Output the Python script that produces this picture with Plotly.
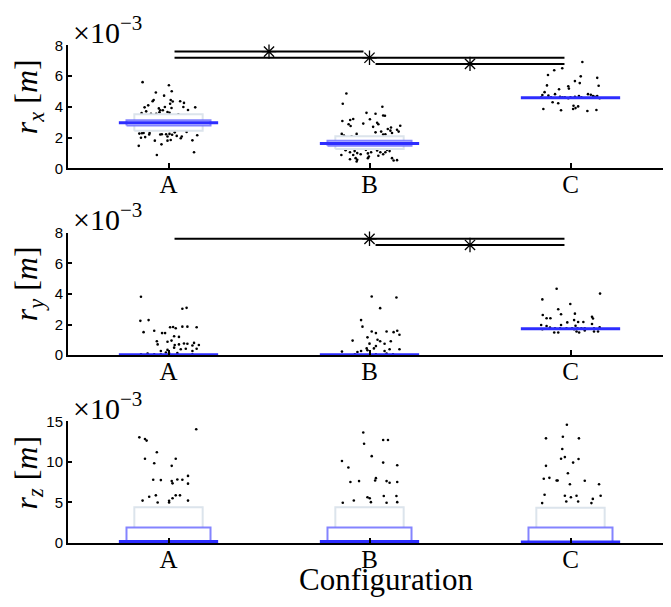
import plotly.graph_objects as go

categories = ["A", "B", "C"]
cat_pos = [1, 2, 3]

# ---------- panel 1 : r_x (x1e-3 m) ----------
rx_A_jit = [-0.129, 0.002, 0.016, -0.063, -0.022, -0.074, -0.079, 0.011, 0.021, 0.058, 0.077, -0.101, 0.008, -0.018,
            -0.119, -0.048, -0.041, -0.028, -0.111, 0.015, 0.074, 0.097, 0.133, -0.005, 0.005, -0.134, -0.087, -0.061,
            0.049, -0.045, -0.145, -0.132, -0.124, -0.094, -0.096, -0.041, -0.033, -0.012, 0.005, 0.031, 0.018, 0.066,
            0.090, 0.143, -0.137, -0.116, -0.005, 0.041, 0.061, -0.068, -0.005, 0.011, 0.119, -0.035, -0.148, -0.058,
            0.127]
rx_A_val = [5.61, 5.41, 5.02, 4.94, 4.73, 4.45, 4.37, 4.45, 4.35, 4.37, 4.26, 4.10, 4.20, 3.99,
            3.97, 3.90, 3.78, 3.78, 3.71, 3.93, 3.99, 3.80, 3.97, 3.67, 3.61, 3.59, 3.55, 3.55,
            3.51, 3.65, 2.26, 2.28, 2.30, 2.30, 2.20, 2.20, 2.22, 2.22, 2.24, 2.34, 2.18, 2.07,
            2.37, 2.15, 1.99, 2.03, 2.07, 2.11, 1.96, 1.80, 1.80, 1.84, 1.82, 1.56, 1.46, 0.87,
            1.04]
rx_B_jit = [-0.115, -0.133, 0.064, -0.015, 0.030, 0.068, 0.077, -0.135, -0.096, -0.081, 0.002, -0.104, -0.094, -0.031,
            0.038, 0.044, 0.018, 0.107, 0.153, 0.091, 0.030, 0.058, 0.068, 0.079, 0.137, 0.145, 0.104, -0.138,
            -0.127, -0.089, -0.064, 0.112, -0.130, -0.119, -0.097, -0.074, -0.061, -0.044, -0.018, -0.008, 0.013,
            0.008, 0.038, 0.054, 0.079, 0.087, 0.100, -0.140, -0.081, -0.069, -0.097, -0.061, -0.008, 0.044, 0.068,
            0.112, 0.120, 0.137, -0.064, -0.003]
rx_B_val = [4.87, 4.20, 4.01, 3.61, 3.55, 3.44, 3.42, 3.08, 3.15, 3.21, 3.19, 2.87, 2.75, 2.91,
            2.97, 2.87, 2.70, 2.66, 2.77, 2.56, 2.34, 2.39, 2.20, 2.22, 2.51, 2.39, 2.45, 2.24,
            2.13, 2.09, 2.24, 2.30, 1.29, 1.18, 1.04, 1.12, 0.99, 0.91, 1.20, 0.97, 1.29,
            1.04, 1.16, 1.04, 1.04, 1.20, 1.12, 0.87, 0.87, 0.66, 0.59, 0.55, 0.66, 0.82, 0.91,
            0.66, 0.51, 0.53, 0.44, 0.76]
rx_C_jit = [0.059, -0.041, -0.081, -0.112, 0.051, 0.133, 0.022, 0.046, -0.117, 0.140, -0.011, -0.008, -0.057, -0.077,
            -0.129, -0.140, -0.110, -0.146, -0.097, -0.052, -0.028, -0.011, 0.022, 0.042, 0.054, 0.087, 0.101, 0.112,
            0.121, 0.133, 0.145, -0.040, 0.000, -0.089, -0.061, 0.015, 0.025, 0.038, -0.135, -0.047, 0.084, 0.129,
            0.013]
rx_C_val = [6.92, 6.52, 6.39, 6.08, 5.99, 5.89, 5.68, 5.55, 5.40, 5.38, 5.34, 5.19, 5.15, 4.83,
            4.96, 4.77, 4.73, 4.62, 4.62, 4.66, 4.62, 4.56, 4.66, 4.71, 4.62, 4.83, 4.79, 4.71,
            4.66, 4.71, 4.56, 4.62, 4.62, 4.30, 4.24, 4.07, 3.92, 4.03, 3.86, 3.78, 3.73, 3.80,
            3.86]
rx_mean = [2.96, 1.62, 4.60]
rx_sem_lo = [2.78, 1.46, None]
rx_sem_hi = [3.13, 1.80, None]
rx_sd_lo = [2.45, 1.25, None]
rx_sd_hi = [3.52, 2.09, None]
rx_sig = [(1, 2, 7.6), (1, 3, 7.2), (2, 3, 6.8)]

# ---------- panel 2 : r_y ----------
ry_A_jit = [-0.137, -0.140, -0.099, -0.124, -0.071, -0.032, -0.017, -0.058, -0.054, 0.008, 0.023, 0.036, 0.069, 0.094,
            0.140, 0.069, 0.090, 0.028, 0.052, -0.005, 0.015, 0.031, 0.052, 0.077, 0.094, 0.119, 0.127, 0.151,
            0.061, 0.086, 0.119, 0.140, -0.005, 0.028, -0.038, -0.013, -0.137, -0.104, -0.071, -0.038, 0.003,
            0.044, 0.119]
ry_A_val = [3.81, 2.24, 2.29, 1.50, 1.59, 1.44, 1.44, 0.91, 0.70, 1.82, 1.84, 1.76, 1.86, 1.86,
            1.82, 3.03, 3.09, 1.23, 1.19, 0.87, 0.95, 0.66, 0.70, 0.76, 0.74, 0.63, 0.80, 0.66,
            0.38, 0.42, 0.27, 0.42, 0.34, 0.49, 0.27, 0.17, 0.06, 0.11, 0.06, 0.06, 0.13,
            0.13, 0.06]
ry_B_jit = [0.011, 0.134, 0.053, -0.042, -0.035, 0.011, 0.032, 0.085, 0.138, 0.149, -0.010, -0.084, 0.053, 0.075,
            0.032, 0.106, -0.014, 0.022, 0.100, 0.149, -0.137, -0.042, -0.010, 0.075, 0.085, 0.117, -0.073,
            0.032, 0.000, 0.040, 0.120, -0.060]
ry_B_val = [3.83, 3.77, 3.07, 2.29, 1.86, 1.54, 1.44, 1.54, 1.59, 1.33, 1.16, 0.95, 0.91, 0.74,
            0.59, 0.91, 0.44, 0.44, 0.38, 0.38, 0.23, 0.27, 0.32, 0.27, 0.11, 0.06, 0.06,
            0.06, 0.75, 1.00, 1.50, 0.20]
ry_C_jit = [-0.069, 0.147, -0.140, -0.001, -0.061, -0.047, 0.022, -0.138, -0.119, -0.100, 0.107, 0.112, 0.018, -0.016,
            0.038, 0.064, 0.107, -0.146, -0.119, -0.047, 0.025, -0.102, -0.140, -0.077, -0.052, -0.020, 0.008,
            0.018, 0.035, 0.054, 0.071, 0.117, 0.145, -0.081, -0.061, 0.030, 0.043, 0.117, 0.137, 0.071]
ry_C_val = [4.34, 4.02, 3.64, 3.34, 3.00, 2.67, 2.71, 2.62, 2.41, 2.41, 2.50, 2.39, 2.29, 2.14,
            2.16, 2.16, 2.03, 1.97, 1.90, 1.97, 1.92, 1.80, 1.69, 1.76, 1.76, 1.76, 1.76,
            1.69, 1.76, 1.76, 1.76, 1.76, 1.82, 1.48, 1.48, 1.54, 1.48, 1.54, 1.54, 1.61]
ry_mean = [0.03, 0.03, 1.72]
ry_sig = [(1, 3, 7.6), (2, 3, 7.2)]

# ---------- panel 3 : r_z ----------
rz_A_jit = [0.138, -0.145, -0.117, -0.109, -0.058, -0.117, 0.036, -0.071, 0.016, -0.076, -0.038, 0.016, 0.020, 0.044,
            0.069, 0.097, 0.097, -0.129, -0.096, -0.063, -0.054, 0.003, 0.003, 0.020, 0.036, 0.057, 0.097]
rz_A_val = [14.04, 13.04, 12.84, 12.64, 11.20, 10.40, 10.40, 9.84, 9.52, 7.80, 7.76, 7.64, 7.36, 7.84,
            7.80, 8.28, 7.32, 5.23, 5.71, 5.88, 4.99, 4.99, 5.20, 5.52, 5.88, 5.88, 5.23]
rz_B_jit = [-0.031, -0.027, 0.011, 0.068, 0.092, -0.137, -0.105, 0.068, 0.138, 0.032, -0.095, -0.052, 0.085, 0.100,
            0.138, 0.028, -0.078, -0.133, -0.010, 0.007, 0.071, 0.134, 0.085, 0.138, 0.001]
rz_B_val = [13.64, 12.25, 10.72, 12.72, 12.72, 10.12, 9.32, 9.92, 9.60, 8.00, 7.52, 7.64, 7.64, 7.44,
            7.52, 7.72, 5.24, 4.96, 5.64, 5.04, 5.80, 5.80, 4.96, 5.04, 5.52]
rz_C_jit = [-0.018, -0.122, -0.038, 0.042, -0.041, -0.047, -0.028, 0.013, 0.040, -0.122, -0.013, -0.133, -0.105, -0.069,
            -0.064, -0.003, 0.071, 0.142, -0.129, -0.028, 0.002, 0.030, 0.150, -0.141, -0.021, 0.038, 0.111, 0.104]
rz_C_val = [14.60, 12.92, 13.12, 12.92, 11.60, 10.40, 10.60, 9.92, 10.36, 9.52, 8.60, 7.92, 8.04, 7.72,
            7.72, 7.24, 7.68, 7.24, 5.95, 5.83, 5.64, 5.83, 5.83, 4.92, 5.12, 5.12, 5.44, 4.92]
rz_mean = [0.19, 0.19, 0.12]
rz_sem_lo = [-1.5, -1.5, -1.6]
rz_sem_hi = [1.92, 1.92, 1.92]
rz_sd_lo = [-4.0, -4.0, -4.0]
rz_sd_hi = [4.42, 4.42, 4.35]

MEAN_HW, SEM_HW, SD_HW = 0.247, 0.209, 0.17

panels = [
    dict(jit=[rx_A_jit, rx_B_jit, rx_C_jit], val=[rx_A_val, rx_B_val, rx_C_val], mean=rx_mean,
         sem=(rx_sem_lo, rx_sem_hi), sd=(rx_sd_lo, rx_sd_hi), sig=rx_sig, rng=[0, 8], ticks=[0, 2, 4, 6, 8],
         title="<i>r<sub>x</sub></i> [<i>m</i>]", dom=(37.3, 163.7)),
    dict(jit=[ry_A_jit, ry_B_jit, ry_C_jit], val=[ry_A_val, ry_B_val, ry_C_val], mean=ry_mean,
         sem=None, sd=None, sig=ry_sig, rng=[0, 8], ticks=[0, 2, 4, 6, 8],
         title="<i>r<sub>y</sub></i> [<i>m</i>]", dom=(230.0, 356.0)),
    dict(jit=[rz_A_jit, rz_B_jit, rz_C_jit], val=[rz_A_val, rz_B_val, rz_C_val], mean=rz_mean,
         sem=(rz_sem_lo, rz_sem_hi), sd=(rz_sd_lo, rz_sd_hi), sig=[], rng=[0, 15], ticks=[0, 5, 10, 15],
         title="<i>r<sub>z</sub></i> [<i>m</i>]", dom=(424.3, 549.3)),
]

# the page body has an 8px margin: size the figure so it fills the window exactly
OFF = 8
FW, FH = 671 - OFF, 607 - OFF
AX_LEFT = 68           # screen x of the y axes
L = AX_LEFT - OFF
PW = FW - L


def sx(x):  # screen x -> paper
    return (x - AX_LEFT) / PW


def sy(y):  # screen y -> paper
    return 1 - (y - OFF) / FH


fig = go.Figure()
SERIF = "Liberation Serif"
SANS = "Liberation Sans"


def box(cx, hw, lo, hi, color, xa, ya):
    fig.add_trace(go.Scatter(x=[cx - hw, cx + hw, cx + hw, cx - hw, cx - hw], y=[lo, lo, hi, hi, lo],
                             mode="lines", fill="toself", fillcolor="white",
                             line=dict(color=color, width=2), xaxis=xa, yaxis=ya,
                             hoverinfo="skip", showlegend=False))


annotations = []
for k, p in enumerate(panels):
    n = "" if k == 0 else str(k + 1)
    xa, ya = "x" + n, "y" + n
    for i, c in enumerate(cat_pos):
        fig.add_trace(go.Scatter(x=[c + j for j in p["jit"][i]], y=p["val"][i], mode="markers",
                                 marker=dict(size=2.6, color="black"), xaxis=xa, yaxis=ya,
                                 showlegend=False, hoverinfo="skip", cliponaxis=True))
    for i, c in enumerate(cat_pos):
        if p["sd"] and p["sd"][0][i] is not None:
            box(c, SD_HW, p["sd"][0][i], p["sd"][1][i], "rgb(220,228,236)", xa, ya)
        if p["sem"] and p["sem"][0][i] is not None:
            box(c, SEM_HW, p["sem"][0][i], p["sem"][1][i], "rgba(110,110,255,0.85)", xa, ya)
        fig.add_trace(go.Scatter(x=[c - MEAN_HW, c + MEAN_HW], y=[p["mean"][i], p["mean"][i]], mode="lines",
                                 line=dict(color="rgb(45,45,255)", width=3), xaxis=xa, yaxis=ya,
                                 showlegend=False, hoverinfo="skip"))
    for (a, b, lev) in p["sig"]:
        fig.add_trace(go.Scatter(x=[a + 0.03, b - 0.03], y=[lev, lev], mode="lines",
                                 line=dict(color="black", width=2), xaxis=xa, yaxis=ya,
                                 showlegend=False, hoverinfo="skip"))
        fig.add_trace(go.Scatter(x=[(a + b) / 2], y=[lev], mode="markers",
                                 marker=dict(symbol="asterisk-open", size=12, color="black",
                                             line=dict(color="black", width=1.3)),
                                 xaxis=xa, yaxis=ya, showlegend=False, hoverinfo="skip", cliponaxis=False))
    top, bot = p["dom"]
    fig.update_layout(**{
        "xaxis" + n: dict(domain=[0, 1], range=[0.5, 3.5], tickvals=cat_pos, ticktext=categories,
                          ticks="inside", ticklen=5, tickwidth=2, tickcolor="black", showline=True,
                          linecolor="black", linewidth=2, showgrid=False, zeroline=False, anchor=ya,
                          ticklabelstandoff=-7,
                          tickfont=dict(family=SERIF, size=25, color="black"), fixedrange=True),
        "yaxis" + n: dict(domain=[sy(bot), sy(top)], range=p["rng"], tickvals=p["ticks"],
                          ticks="inside", ticklen=4, tickwidth=1.5, tickcolor="black", showline=True,
                          linecolor="black", linewidth=2, showgrid=False, zeroline=False, anchor=xa,
                          tickfont=dict(family=SANS, size=15, color="black"), fixedrange=True),
    })
    annotations.append(dict(text="×10<sup>−3</sup>", xref="paper", yref="paper", x=sx(71),
                            y=sy(top - 16), xanchor="left", yanchor="middle", showarrow=False,
                            font=dict(family=SERIF, size=30, color="black")))
    annotations.append(dict(text=p["title"], xref="paper", yref="paper", x=sx(28),
                            y=sy((top + bot) / 2 - 10), xanchor="center", yanchor="middle",
                            textangle=-90, showarrow=False, font=dict(family=SERIF, size=32, color="black")))

annotations.append(dict(text="Configuration", xref="paper", yref="paper", x=sx(386), y=sy(587),
                        xanchor="center", yanchor="middle", showarrow=False,
                        font=dict(family=SERIF, size=31, color="black")))

fig.update_layout(width=FW, height=FH, margin=dict(l=L, r=0, t=0, b=0), plot_bgcolor="white",
                  paper_bgcolor="white", annotations=annotations, showlegend=False)

fig.write_html("out.html")
